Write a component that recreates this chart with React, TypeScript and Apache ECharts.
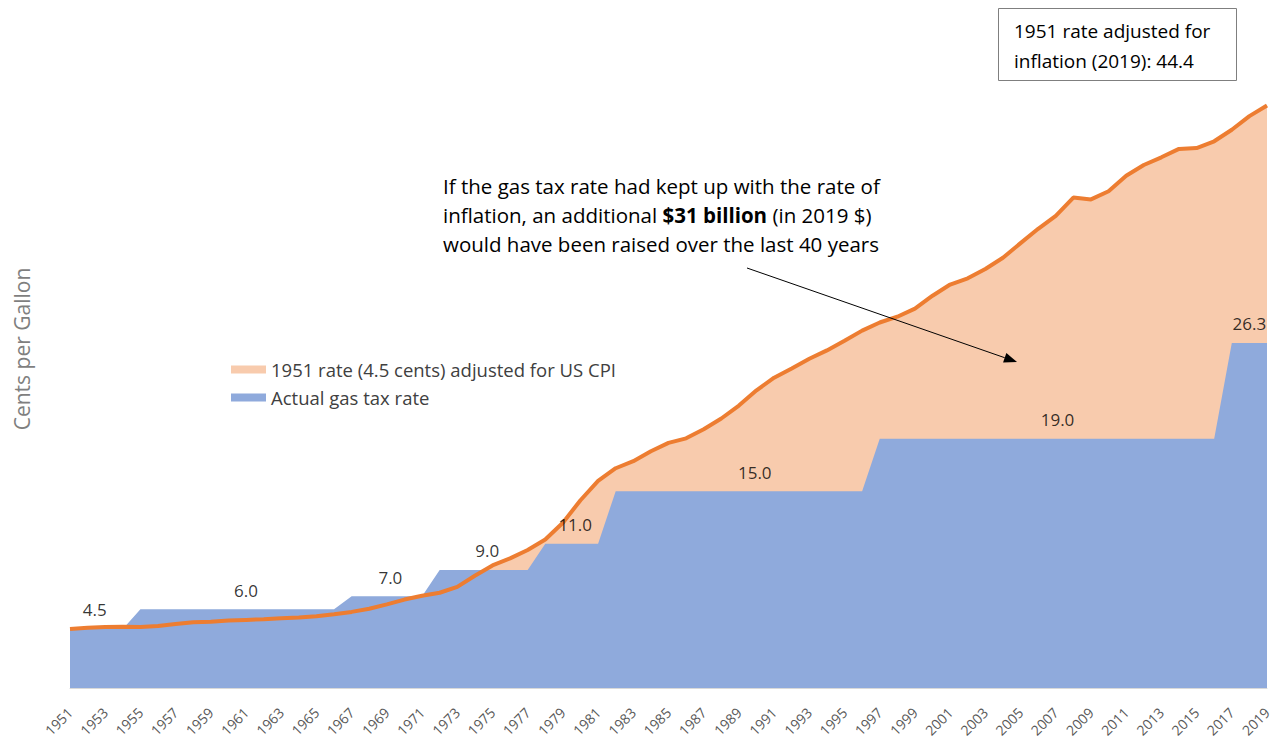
import React, { useEffect, useRef } from "react";
import * as echarts from "echarts";

const years: string[] = [
  "1951","1952","1953","1954","1955","1956","1957","1958","1959","1960",
  "1961","1962","1963","1964","1965","1966","1967","1968","1969","1970",
  "1971","1972","1973","1974","1975","1976","1977","1978","1979","1980",
  "1981","1982","1983","1984","1985","1986","1987","1988","1989","1990",
  "1991","1992","1993","1994","1995","1996","1997","1998","1999","2000",
  "2001","2002","2003","2004","2005","2006","2007","2008","2009","2010",
  "2011","2012","2013","2014","2015","2016","2017","2018","2019",
];

const cpiAdjusted: number[] = [
  4.5, 4.6, 4.64, 4.67, 4.65, 4.72, 4.88, 5.02, 5.05, 5.14,
  5.19, 5.24, 5.31, 5.38, 5.47, 5.62, 5.8, 6.04, 6.37, 6.74,
  7.03, 7.26, 7.71, 8.56, 9.34, 9.88, 10.52, 11.32, 12.6, 14.31,
  15.78, 16.75, 17.29, 18.04, 18.68, 19.03, 19.72, 20.54, 21.53, 22.69,
  23.65, 24.36, 25.09, 25.73, 26.46, 27.24, 27.86, 28.3, 28.92, 29.9,
  30.75, 31.23, 31.94, 32.79, 33.91, 35.0, 35.99, 37.38, 37.24, 37.86,
  39.04, 39.86, 40.45, 41.09, 41.15, 41.67, 42.55, 43.59, 44.4,
];

const actualRate: number[] = [
  4.5, 4.5, 4.5, 4.5, 6, 6, 6, 6, 6, 6,
  6, 6, 6, 6, 6, 6, 7, 7, 7, 7,
  7, 9, 9, 9, 9, 9, 9, 11, 11, 11,
  11, 15, 15, 15, 15, 15, 15, 15, 15, 15,
  15, 15, 15, 15, 15, 15, 19, 19, 19, 19,
  19, 19, 19, 19, 19, 19, 19, 19, 19, 19,
  19, 19, 19, 19, 19, 19, 26.3, 26.3, 26.3,
];

// positions (in years) where the step value labels sit
const rateLabelYears: number[] = [1952.4, 1961, 1969.2, 1974.7, 1979.7, 1989.9, 2007.1, 2018];
const rateLabelValues: number[] = [4.5, 6.0, 7.0, 9.0, 11.0, 15.0, 19.0, 26.3];

const CPI_NAME = "1951 rate (4.5 cents) adjusted for US CPI";
const ACTUAL_NAME = "Actual gas tax rate";

const FONT = "'Open Sans', sans-serif";

export default function App() {
  const ref = useRef<HTMLDivElement>(null);

  useEffect(() => {
    if (!ref.current) return;
    const chart = echarts.init(ref.current, undefined, { renderer: "svg" });

    const arrowStart = [747, 268];
    const arrowEnd = [1017, 362];
    const ang = Math.atan2(arrowEnd[1] - arrowStart[1], arrowEnd[0] - arrowStart[0]);
    const hl = 13;
    const hw = 5;
    const bx = arrowEnd[0] - hl * Math.cos(ang);
    const by = arrowEnd[1] - hl * Math.sin(ang);
    const head = [
      [arrowEnd[0], arrowEnd[1]],
      [bx + hw * Math.sin(ang), by - hw * Math.cos(ang)],
      [bx - hw * Math.sin(ang), by + hw * Math.cos(ang)],
    ];

    chart.setOption({
      animation: false,
      textStyle: { fontFamily: FONT },
      grid: { left: 70, right: 12, top: 32, bottom: 56, containLabel: false },
      legend: {
        orient: "vertical",
        left: 226,
        top: 355,
        itemWidth: 35,
        itemHeight: 8,
        itemGap: 9,
        icon: "rect",
        textStyle: { fontSize: 18.5, color: "#404040", fontFamily: FONT },
        data: [
          { name: CPI_NAME, itemStyle: { color: "#F8CBAD" } },
          { name: ACTUAL_NAME, itemStyle: { color: "#8FAADC" } },
        ],
        selectedMode: false,
      },
      xAxis: [
        {
          type: "category",
          data: years,
          boundaryGap: false,
          axisLine: { show: true, lineStyle: { color: "#D9D9D9", width: 1 } },
          axisTick: { show: false },
          axisLabel: {
            interval: 1,
            rotate: 45,
            fontSize: 14,
            color: "#595959",
            margin: 22,
            fontFamily: FONT,
          },
          splitLine: { show: false },
        },
        {
          type: "value",
          min: 1951,
          max: 2019,
          show: false,
        },
      ],
      yAxis: {
        type: "value",
        min: 0,
        max: 50,
        show: false,
        splitLine: { show: false },
      },
      graphic: [
        {
          type: "text",
          x: 22,
          y: 349,
          rotation: Math.PI / 2,
          z: 100,
          style: {
            text: "Cents per Gallon",
            fontSize: 21,
            fill: "#7F7F7F",
            fontFamily: FONT,
            align: "center",
            verticalAlign: "middle",
          },
        },
        {
          type: "text",
          left: 443,
          top: 171,
          z: 100,
          style: {
            text:
              "If the gas tax rate had kept up with the rate of\n" +
              "inflation, an additional {b|$31 billion} (in 2019 $)\n" +
              "would have been raised over the last 40 years",
            fontSize: 20.5,
            lineHeight: 29,
            fill: "#000000",
            fontFamily: FONT,
            rich: {
              b: { fontSize: 20.5, fontWeight: "bold", fill: "#000000", fontFamily: FONT, lineHeight: 29 },
            },
          },
        },
        {
          type: "line",
          z: 100,
          shape: { x1: arrowStart[0], y1: arrowStart[1], x2: bx, y2: by },
          style: { stroke: "#000000", lineWidth: 1 },
        },
        {
          type: "polygon",
          z: 100,
          shape: { points: head },
          style: { fill: "#000000" },
        },
        {
          type: "rect",
          z: 100,
          shape: { x: 998.5, y: 8.5, width: 238, height: 72 },
          style: { fill: "#FFFFFF", stroke: "#7F7F7F", lineWidth: 1 },
        },
        {
          type: "text",
          left: 1014,
          top: 16,
          z: 101,
          style: {
            text: "1951 rate adjusted for\ninflation (2019): 44.4",
            fontSize: 19,
            lineHeight: 30,
            fill: "#000000",
            fontFamily: FONT,
          },
        },
      ],
      series: [
        {
          name: CPI_NAME,
          type: "line",
          data: cpiAdjusted,
          symbol: "none",
          lineStyle: { width: 0, opacity: 0 },
          itemStyle: { color: "#F8CBAD" },
          areaStyle: { color: "#F8CBAD", opacity: 1 },
          z: 1,
        },
        {
          name: ACTUAL_NAME,
          type: "line",
          data: actualRate,
          symbol: "none",
          lineStyle: { width: 0, opacity: 0 },
          itemStyle: { color: "#8FAADC" },
          areaStyle: { color: "#8FAADC", opacity: 1 },
          z: 2,
        },
        {
          name: "CPI line",
          type: "line",
          data: cpiAdjusted,
          symbol: "none",
          lineStyle: { width: 4, color: "#ED7D31" },
          itemStyle: { color: "#ED7D31" },
          z: 3,
        },
        {
          name: "Rate labels",
          type: "scatter",
          xAxisIndex: 1,
          data: rateLabelYears.map((y, i) => [y, rateLabelValues[i]]),
          symbolSize: 1,
          itemStyle: { color: "rgba(0,0,0,0)" },
          label: {
            show: true,
            position: "top",
            distance: 10,
            fontSize: 17,
            color: "#000000",
            fontFamily: FONT,
            formatter: (p: any) => Number(p.value[1]).toFixed(1),
          },
          z: 4,
        },
      ],
    });

    return () => chart.dispose();
  }, []);

  return (
    <div
      ref={ref}
      style={{ position: "absolute", left: 0, top: 0, width: 1279, height: 744 }}
    />
  );
}
